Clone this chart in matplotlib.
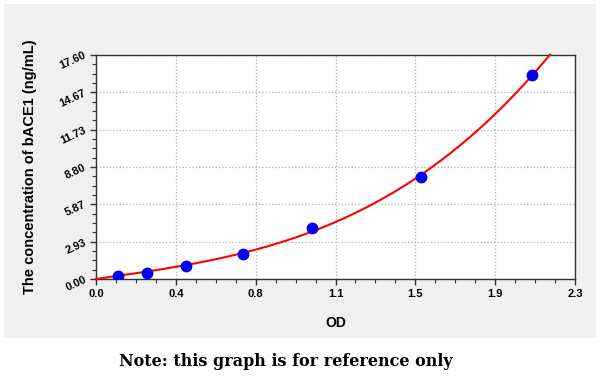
import numpy as np
import matplotlib
matplotlib.use('Agg')
import matplotlib.pyplot as plt
from matplotlib.patches import Rectangle
from matplotlib.ticker import AutoMinorLocator

# standard curve points
od = [0.107, 0.243, 0.432, 0.704, 1.036, 1.561, 2.092]
conc = [0.25, 0.5, 1.0, 2.0, 4.0, 8.0, 16.0]

x_ticks = np.linspace(0, 2.3, 7)
x_labels = ['0.0', '0.4', '0.8', '1.1', '1.5', '1.9', '2.3']
y_ticks = np.linspace(0, 17.6, 7)
y_labels = ['0.00', '2.93', '5.87', '8.80', '11.73', '14.67', '17.60']

# cubic fit through the origin
A = np.column_stack([np.array(od), np.array(od) ** 2, np.array(od) ** 3])
coef, *_ = np.linalg.lstsq(A, np.array(conc), rcond=None)
xs = np.linspace(0, 2.18, 200)
ys = coef[0] * xs + coef[1] * xs ** 2 + coef[2] * xs ** 3

fig = plt.figure(figsize=(6, 3.86), dpi=100)
bg = Rectangle((4 / 600, 1 - 338 / 386), 592 / 600, 334 / 386,
               transform=fig.transFigure, facecolor='#f0f0f0',
               edgecolor='none', zorder=-10)
fig.add_artist(bg)

ax = fig.add_axes([96 / 600, 1 - 279 / 386, 479 / 600, 224 / 386])
ax.set_zorder(5)
ax.set_facecolor('white')
ax.plot(xs, ys, color='red', lw=1.5, zorder=3, clip_on=False)
ax.plot(od, conc, 'o', color='#0000ee', markersize=7.5, zorder=4)

ax.set_xlim(0, 2.3)
ax.set_ylim(0, 17.6)
ax.set_xticks(x_ticks)
ax.set_xticklabels(x_labels, fontsize=8, fontweight='bold', family='Liberation Sans')
ax.set_yticks(y_ticks)
ax.set_yticklabels(y_labels, fontsize=8, fontweight='bold', family='Liberation Sans',
                   rotation=25, ha='right', va='center', rotation_mode='anchor')
ax.xaxis.set_minor_locator(AutoMinorLocator(4))
ax.yaxis.set_minor_locator(AutoMinorLocator(4))
ax.tick_params(which='major', direction='out', length=4, width=1, color='#333333')
ax.tick_params(which='minor', direction='out', length=3, width=0.8, color='#333333')
ax.grid(True, which='major', linestyle=':', color='#b0b0b0', lw=0.9)
for s in ax.spines.values():
    s.set_color('#333333')
    s.set_linewidth(1)

ax.set_xlabel('OD', fontsize=10, fontweight='bold', family='Liberation Sans', labelpad=12)
ax.set_ylabel('The concentration of bACE1 (ng/mL)', fontsize=10.5, fontweight='bold',
              family='Liberation Sans', labelpad=15)

fig.text(286 / 600, 1 - 362 / 386, 'Note: this graph is for reference only', ha='center',
         va='center', fontsize=11.5, fontweight='bold', family='DejaVu Serif')

fig.savefig('out.png', dpi=100)
